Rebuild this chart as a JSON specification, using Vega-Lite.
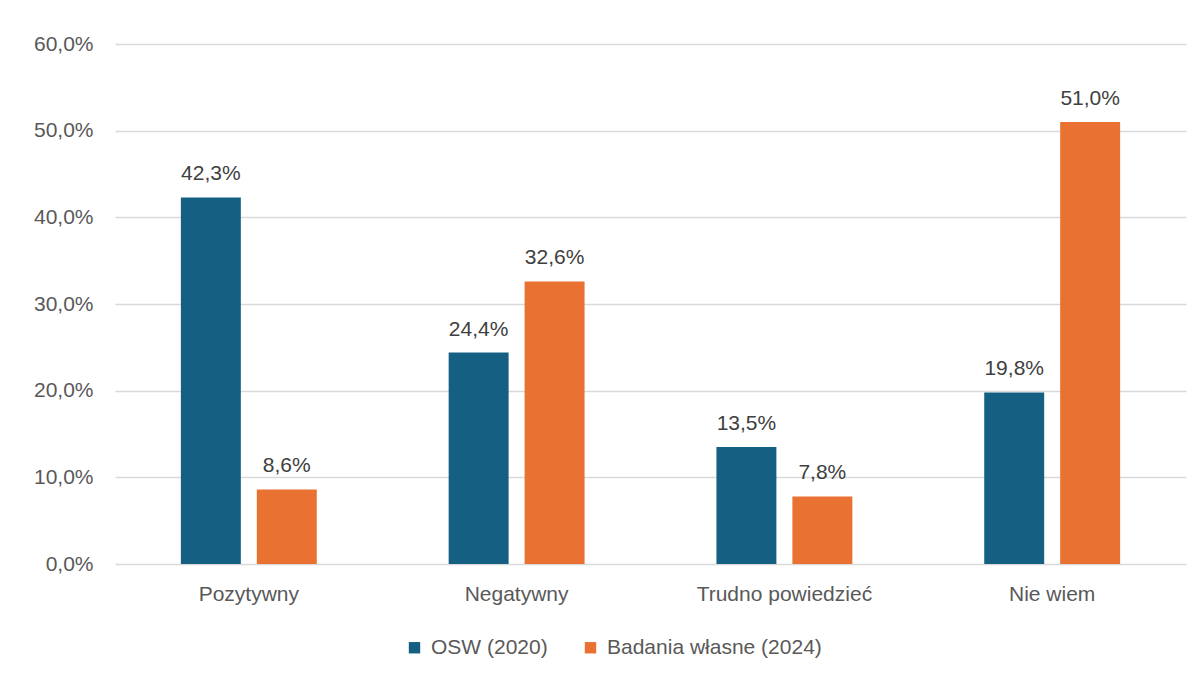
{
  "$schema": "https://vega.github.io/schema/vega-lite/v6.json",
  "width": 1071,
  "height": 520,
  "autosize": {"type": "none"},
  "padding": {"left": 115, "top": 44, "right": 17, "bottom": 113},
  "background": "white",
  "config": {
    "view": {"stroke": null},
    "font": "Liberation Sans",
    "locale": {"number": {"decimal": ",", "thousands": " ", "grouping": [3], "currency": ["", " zł"]}}
  },
  "data": {
    "values": [
      {"kategoria": "Pozytywny", "seria": "OSW (2020)", "wartosc": 0.423},
      {"kategoria": "Pozytywny", "seria": "Badania własne (2024)", "wartosc": 0.086},
      {"kategoria": "Negatywny", "seria": "OSW (2020)", "wartosc": 0.244},
      {"kategoria": "Negatywny", "seria": "Badania własne (2024)", "wartosc": 0.326},
      {"kategoria": "Trudno powiedzieć", "seria": "OSW (2020)", "wartosc": 0.135},
      {"kategoria": "Trudno powiedzieć", "seria": "Badania własne (2024)", "wartosc": 0.078},
      {"kategoria": "Nie wiem", "seria": "OSW (2020)", "wartosc": 0.198},
      {"kategoria": "Nie wiem", "seria": "Badania własne (2024)", "wartosc": 0.51}
    ]
  },
  "encoding": {
    "x": {
      "field": "kategoria", "type": "nominal",
      "sort": ["Pozytywny", "Negatywny", "Trudno powiedzieć", "Nie wiem"],
      "scale": {"paddingInner": 0.4925, "paddingOuter": 0.246},
      "axis": {"title": null, "labelAngle": 0, "domain": false, "ticks": false, "labelPadding": 19, "labelFontSize": 21, "labelColor": "#595959", "labelLimit": 0}
    },
    "xOffset": {
      "field": "seria", "type": "nominal",
      "sort": ["OSW (2020)", "Badania własne (2024)"],
      "scale": {"paddingInner": 0.2105, "paddingOuter": 0}
    },
    "y": {
      "field": "wartosc", "type": "quantitative",
      "scale": {"domain": [0, 0.6]},
      "axis": {"title": null, "format": ".1%", "values": [0, 0.1, 0.2, 0.3, 0.4, 0.5, 0.6], "labelOverlap": false, "domain": false, "ticks": false, "labelPadding": 22, "labelFontSize": 21, "labelColor": "#595959", "gridColor": "#D9D9D9", "gridWidth": 1.5}
    }
  },
  "layer": [
    {
      "mark": {"type": "bar"},
      "encoding": {
        "color": {
          "field": "seria", "type": "nominal",
          "sort": ["OSW (2020)", "Badania własne (2024)"],
          "scale": {"domain": ["OSW (2020)", "Badania własne (2024)"], "range": ["#156082", "#E97132"]},
          "legend": {"title": null, "orient": "none", "legendX": 289, "legendY": 593, "direction": "horizontal", "symbolType": "square", "symbolSize": 130, "symbolStrokeWidth": 0, "labelFontSize": 21, "labelColor": "#595959", "labelLimit": 0, "columnPadding": 32, "labelOffset": 6}
        }
      }
    },
    {
      "mark": {"type": "text", "baseline": "bottom", "dy": -13, "fontSize": 21, "color": "#404040"},
      "encoding": {
        "text": {"field": "wartosc", "type": "quantitative", "format": ".1%"}
      }
    }
  ]
}
